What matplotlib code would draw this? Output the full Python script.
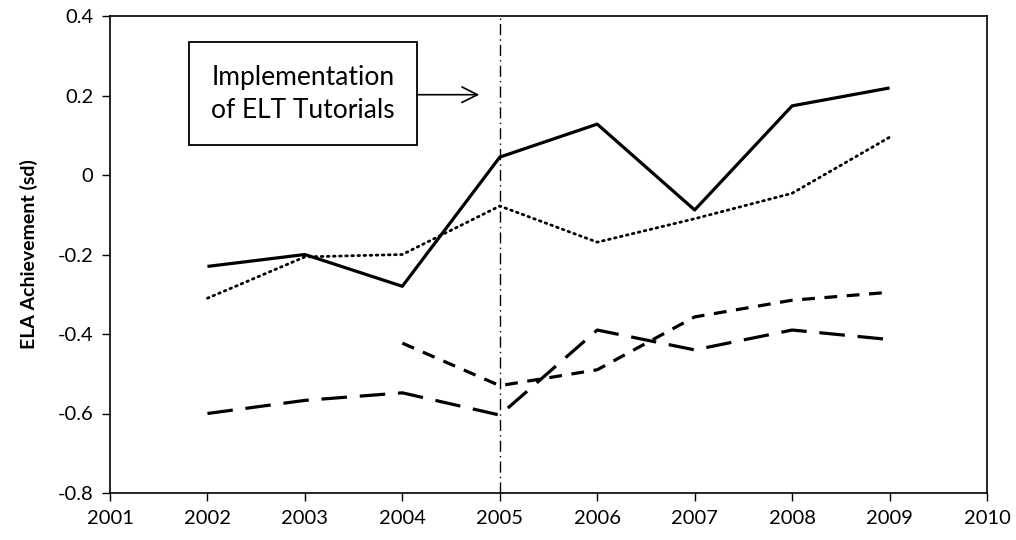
import matplotlib
matplotlib.use("Agg")
import matplotlib.pyplot as plt
from matplotlib.patches import Rectangle
import numpy as np

plt.rcParams['font.family'] = ['Lato', 'DejaVu Sans']

years = [2002, 2003, 2004, 2005, 2006, 2007, 2008, 2009]
solid = [-0.23, -0.20, -0.28, 0.045, 0.128, -0.088, 0.174, 0.219]
dotted = [-0.31, -0.206, -0.20, -0.078, -0.169, -0.11, -0.046, 0.095]
short_years = [2004, 2005, 2006, 2007, 2008, 2009]
short_dash = [-0.423, -0.53, -0.49, -0.357, -0.315, -0.295]
long_dash = [-0.60, -0.567, -0.548, -0.604, -0.39, -0.44, -0.39, -0.414]

fig = plt.figure(figsize=(10.16, 5.4), dpi=100)
ax = fig.add_axes([110/1016, 1 - 493/540, (987-110)/1016, (493-16)/540])

ax.plot(years, solid, color='black', lw=2.3, solid_capstyle='butt')
ax.plot(years, dotted, color='black', lw=2.0, linestyle=(0, (0.6, 1.6)), dash_capstyle='round')
ax.plot(short_years, short_dash, color='black', lw=2.3, linestyle=(0, (4, 3)))
ax.plot(years, long_dash, color='black', lw=2.3, linestyle=(0, (8, 4)))

ax.axvline(2005, color='black', lw=1.0, linestyle=(0, (8, 3, 1, 3)))

ax.set_xlim(2001, 2010)
ax.set_ylim(-0.8, 0.4)
ax.set_xticks(range(2001, 2011))
ax.set_yticks(np.arange(-0.8, 0.41, 0.2))
ax.set_yticklabels(['-0.8', '-0.6', '-0.4', '-0.2', '0', '0.2', '0.4'])
ax.tick_params(direction='out', length=6, width=1, labelsize=14.5, pad=6)
for s in ax.spines.values():
    s.set_linewidth(1.2)

ax.set_ylabel('ELA Achievement (sd)', fontsize=14, fontweight='bold', labelpad=14)

ax.add_patch(Rectangle((2001.81, 0.0755), 2004.15 - 2001.81, 0.335 - 0.0755,
                       facecolor='white', edgecolor='black', lw=1.3, zorder=5))
ax.text((2001.81 + 2004.15) / 2, 0.205, 'Implementation\nof ELT Tutorials', ha='center', va='center',
        fontsize=19, linespacing=1.4, zorder=6)
ax.annotate('', xy=(2004.79, 0.202), xytext=(2004.15, 0.202),
            arrowprops=dict(arrowstyle='->', color='black', lw=1.2, mutation_scale=28,
                            shrinkA=0, shrinkB=0))

fig.savefig('out.png', dpi=100)
